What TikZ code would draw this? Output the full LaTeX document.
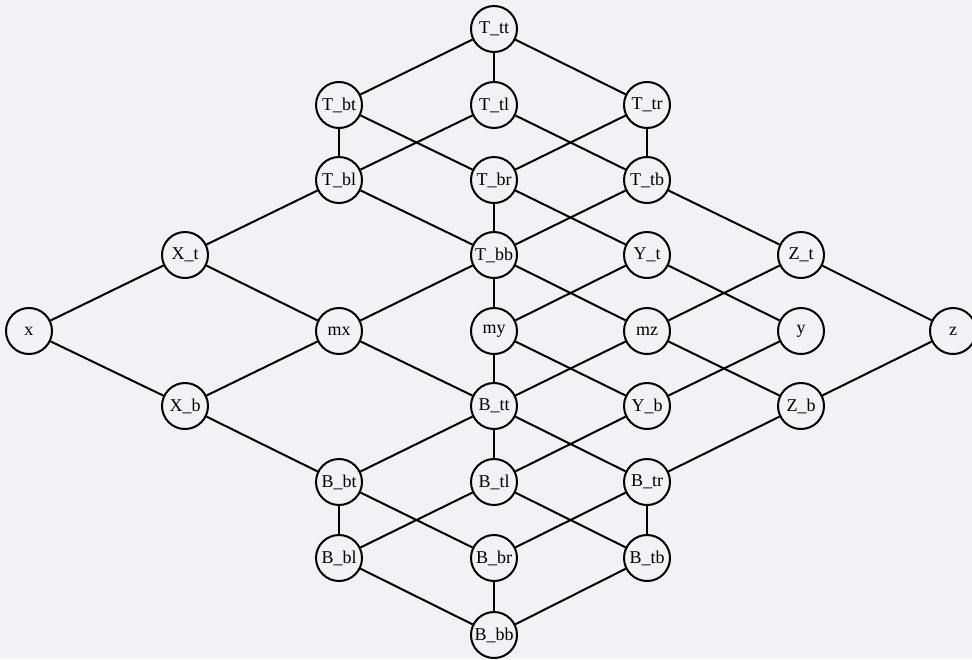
\documentclass[tikz,border=0pt]{standalone}
\usepackage{fontspec}
\setmainfont{Liberation Serif}
\definecolor{bgc}{RGB}{241,241,246}
\begin{document}
\begin{tikzpicture}[x=0.5pt,y=-0.5pt,
  vtx/.style={circle,draw,line width=1pt,minimum size=23pt,inner sep=0pt,font=\fontsize{9}{10}\selectfont},
  edge/.style={line width=1pt}]
\fill[bgc] (0,0) rectangle (972,659);
\useasboundingbox (0,0) rectangle (972,659);
% rows
\def\ra{29}\def\rb{105}\def\rc{180}\def\rd{255}\def\re{331}\def\rf{406}\def\rg{482}\def\rh{558}\def\ri{635}
\node[vtx] (Ttt) at (494,\ra) {T\_tt};
\node[vtx] (Tbt) at (339,\rb) {T\_bt};
\node[vtx] (Ttl) at (494,\rb) {T\_tl};
\node[vtx] (Ttr) at (647,\rb) {T\_tr};
\node[vtx] (Tbl) at (339,\rc) {T\_bl};
\node[vtx] (Tbr) at (494,\rc) {T\_br};
\node[vtx] (Ttb) at (647,\rc) {T\_tb};
\node[vtx] (Xt) at (185,\rd) {X\_t};
\node[vtx] (Tbb) at (494,\rd) {T\_bb};
\node[vtx] (Yt) at (647,\rd) {Y\_t};
\node[vtx] (Zt) at (801,\rd) {Z\_t};
\node[vtx] (x) at (29,\re) {x};
\node[vtx] (mx) at (339,\re) {mx};
\node[vtx] (my) at (494,\re) {my};
\node[vtx] (mz) at (647,\re) {mz};
\node[vtx] (y) at (801,\re) {y};
\node[vtx] (z) at (953,\re) {z};
\node[vtx] (Xb) at (185,\rf) {X\_b};
\node[vtx] (Btt) at (494,\rf) {B\_tt};
\node[vtx] (Yb) at (647,\rf) {Y\_b};
\node[vtx] (Zb) at (801,\rf) {Z\_b};
\node[vtx] (Bbt) at (339,\rg) {B\_bt};
\node[vtx] (Btl) at (494,\rg) {B\_tl};
\node[vtx] (Btr) at (647,\rg) {B\_tr};
\node[vtx] (Bbl) at (339,\rh) {B\_bl};
\node[vtx] (Bbr) at (494,\rh) {B\_br};
\node[vtx] (Btb) at (647,\rh) {B\_tb};
\node[vtx] (Bbb) at (494,\ri) {B\_bb};
\foreach \a/\b in {Ttt/Tbt,Ttt/Ttl,Ttt/Ttr,
  Tbt/Tbl,Tbt/Tbr,Ttl/Tbl,Ttl/Ttb,Ttr/Tbr,Ttr/Ttb,
  Tbl/Xt,Tbl/Tbb,Tbr/Tbb,Tbr/Yt,Ttb/Tbb,Ttb/Zt,
  Xt/x,Xt/mx,Tbb/mx,Tbb/my,Tbb/mz,Yt/my,Yt/y,Zt/mz,Zt/z,
  x/Xb,mx/Xb,mx/Btt,my/Btt,my/Yb,mz/Btt,mz/Zb,y/Yb,z/Zb,
  Xb/Bbt,Btt/Bbt,Btt/Btl,Btt/Btr,Yb/Btl,Zb/Btr,
  Bbt/Bbl,Bbt/Bbr,Btl/Bbl,Btl/Btb,Btr/Bbr,Btr/Btb,
  Bbl/Bbb,Bbr/Bbb,Btb/Bbb}
  \draw[edge] (\a) -- (\b);
\end{tikzpicture}
\end{document}
